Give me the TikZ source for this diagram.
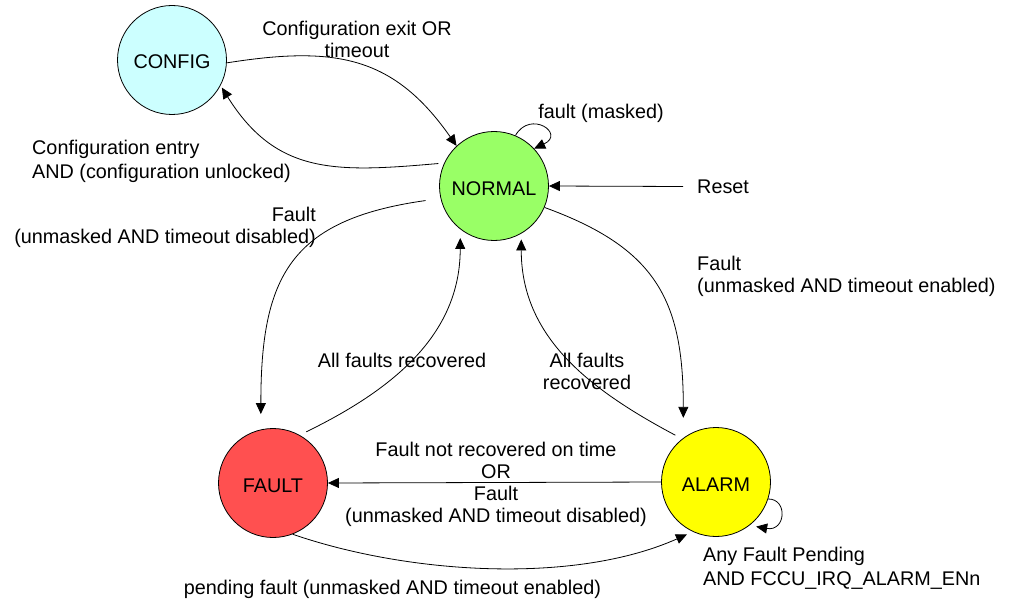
\documentclass[tikz,border=0pt]{standalone}
\usepackage{fontspec}
\setmainfont{Liberation Sans}
\usetikzlibrary{arrows.meta,calc}
\definecolor{cfgcol}{HTML}{CCFFFF}
\definecolor{normcol}{HTML}{99FF66}
\definecolor{faultcol}{HTML}{FF5050}
\definecolor{alarmcol}{HTML}{FFFF00}
\begin{document}
\begin{tikzpicture}[x=1pt,y=1pt,
  state/.style={circle,draw=black,line width=0.8pt,minimum size=109pt,inner sep=0pt,text height=18pt,text depth=0pt,font=\fontsize{19.8}{22}\selectfont},
  lbl/.style={inner sep=0pt,yshift=-2.5pt,font=\fontsize{19.8}{22}\selectfont},
  lblwide/.style={inner sep=0pt,yshift=-2.5pt,font=\fontsize{19.8}{24}\selectfont},
  edge/.style={draw=black,line width=0.8pt,-{Triangle[length=11pt,width=10pt]}}]
\useasboundingbox (0,0) rectangle (1011,-604);
\node[state,fill=cfgcol] (config) at (172,-60) {CONFIG};
\node[state,fill=normcol] (normal) at (494,-186) {NORMAL};
\node[state,fill=faultcol] (fault) at (273,-483) {FAULT};
\node[state,fill=alarmcol] (alarm) at (716,-482) {ALARM};

\node[lbl,align=center] (l1) at (357,-36.5) {Configuration exit OR\\timeout};
\node[lblwide,align=left,anchor=west] (l2) at (32,-159) {Configuration entry\\AND (configuration unlocked)};
\node[lbl] (l3) at (601,-111) {fault (masked)};
\node[lbl,anchor=west] (reset) at (697,-184) {Reset};
\node[lbl,align=right,anchor=east] (l5) at (316,-225) {Fault\\(unmasked AND timeout disabled)};
\node[lbl] (l6) at (402,-358) {All faults recovered};
\node[lbl,align=left,anchor=west] (l7) at (697,-274) {Fault\\(unmasked AND timeout enabled)};
\node[lbl,align=center] (l8) at (587,-369) {All faults\\recovered};
\node[lbl,align=center] (l9) at (496,-481.5) {Fault not recovered on time\\OR\\Fault\\(unmasked AND timeout disabled)};
\node[lbl] (l10) at (392.5,-587) {pending fault (unmasked AND timeout enabled)};
\node[lblwide,align=left,anchor=west] (l11) at (703,-566) {Any Fault Pending\\AND FCCU\_IRQ\_ALARM\_ENn};

\draw[edge] (config.-3) to[out=9,in=125,looseness=1.15] (normal.133);
\draw[edge] ($(normal)+(158:60pt)$) to[out=185,in=-58,looseness=1.15] ($(config)+(-29:57pt)$);
\draw[edge] ($(normal)+(192:70pt)$) to[out=188,in=90,looseness=1.3] ($(fault)+(100:70pt)$);
\draw[edge] ($(fault)+(57:61pt)$) to[out=26,in=-90] ($(normal)+(237:62pt)$);
\draw[edge] ($(normal)+(-23:55pt)$) to[out=-20,in=90,looseness=1.2] ($(alarm)+(117:72pt)$);
\draw[edge] ($(alarm)+(131:62pt)$) to[out=152,in=-90] ($(normal)+(-63:60pt)$);
\draw[edge] (alarm.west) -- (fault.east);
\draw[edge] (fault.-69) to[out=-19,in=204,looseness=0.8] ($(alarm)+(241:60pt)$);
\draw[edge] (normal.67) .. controls +(60:30pt) and +(25:35pt) .. (normal.43);
\draw[edge] (alarm.-18) .. controls +(0:20pt) and +(-10:30pt) .. ($(alarm)+(-48:60pt)$);
\draw[edge] ([xshift=-14pt]reset.west) -- (normal.east);
\end{tikzpicture}
\end{document}
